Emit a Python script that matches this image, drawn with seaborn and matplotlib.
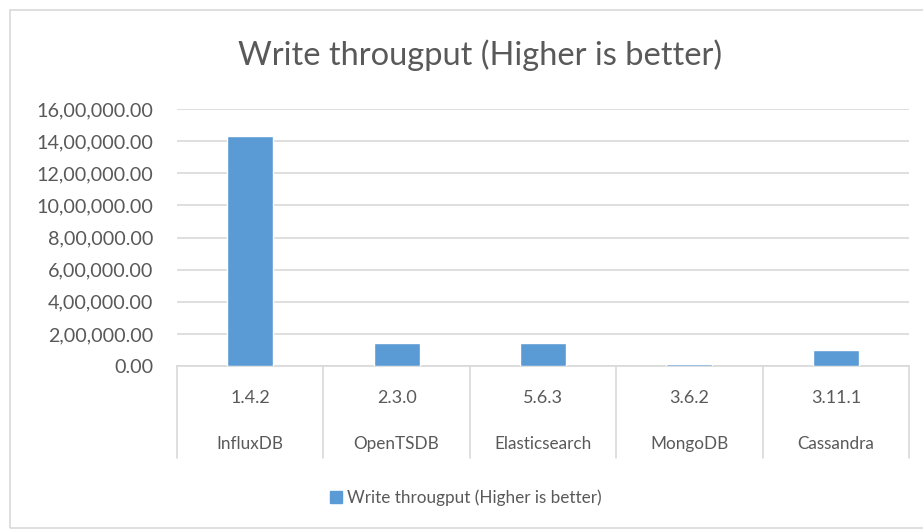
"""Write throughput bar chart (Excel-style, two-level category axis)."""
import matplotlib
matplotlib.use("Agg")
import matplotlib.pyplot as plt
import matplotlib.patches as mpatches
import pandas as pd
import seaborn as sns
from matplotlib.ticker import FuncFormatter

databases = ["InfluxDB", "OpenTSDB", "Elasticsearch", "MongoDB", "Cassandra"]
versions = ["1.4.2", "2.3.0", "5.6.3", "3.6.2", "3.11.1"]
throughput = [1432000, 141000, 141000, 10000, 100000]

TITLE = "Write througput (Higher is better)"
BAR = "#5B9BD5"
TXT = "#595959"
GRID = "#D9D9D9"

W, H = 923, 529


def indian(v, _pos=None):
    """16,00,000.00 style grouping."""
    s = f"{int(round(v))}"
    if len(s) > 3:
        head, tail = s[:-3], s[-3:]
        parts = []
        while len(head) > 2:
            parts.insert(0, head[-2:])
            head = head[:-2]
        if head:
            parts.insert(0, head)
        s = ",".join(parts) + "," + tail
    return s + ".00"


sns.set_style("white")
plt.rcParams["font.family"] = ["Lato", "DejaVu Sans"]

df = pd.DataFrame({"db": databases, "version": versions, "value": throughput})

fig = plt.figure(figsize=(W / 100, H / 100), dpi=100)
x0, x1, y0, y1 = 177, 909, 109, 366
ax = fig.add_axes([x0 / W, 1 - y1 / H, (x1 - x0) / W, (y1 - y0) / H])

sns.barplot(data=df, x="db", y="value", color=BAR, width=0.314, ax=ax,
            saturation=1, zorder=3)

ax.set_ylim(0, 1600000)
ax.set_yticks(range(0, 1600001, 200000))
ax.yaxis.set_major_formatter(FuncFormatter(indian))
ax.set_xlim(-0.5, len(databases) - 0.5)
ax.grid(axis="y", color=GRID, linewidth=1.2, zorder=0)
for s in ["top", "right", "left"]:
    ax.spines[s].set_visible(False)
ax.spines["bottom"].set_color(GRID)
ax.spines["bottom"].set_linewidth(1.2)
ax.spines["bottom"].set_zorder(2)
ax.tick_params(axis="y", length=0, labelsize=14.2, labelcolor=TXT, pad=17)
ax.set_xticks([])
ax.set_xlabel("")
ax.set_ylabel("")

# two-level category axis
depth = (458 - y1) / (y1 - y0)
for i in range(len(databases) + 1):
    ax.plot([i - 0.5, i - 0.5], [0, -depth], transform=ax.get_xaxis_transform(),
            color=GRID, linewidth=1.2, clip_on=False)
for i, (d, v) in enumerate(zip(databases, versions)):
    ax.text(i, -(398 - y1) / (y1 - y0), v, transform=ax.get_xaxis_transform(),
            ha="center", va="center", fontsize=13, color=TXT)
    ax.text(i, -(444 - y1) / (y1 - y0), d, transform=ax.get_xaxis_transform(),
            ha="center", va="center", fontsize=12.3, color=TXT)

fig.text(480 / W, 1 - 55 / H, TITLE, ha="center", va="center", fontsize=23.5, color=TXT)

handle = mpatches.Patch(color=BAR, label=TITLE)
fig.legend(handles=[handle], loc="center", bbox_to_anchor=(466 / W, 1 - 498 / H),
           frameon=False, fontsize=12.3, labelcolor=TXT, handlelength=0.7,
           handleheight=0.7, handletextpad=0.3)

# chart border
fig.patches.append(mpatches.Rectangle((10 / W, 1 / H), 1.0, 1 - 11 / H,
                                      transform=fig.transFigure, fill=False,
                                      edgecolor=GRID, linewidth=1.2))

fig.savefig("out.png", dpi=100)
